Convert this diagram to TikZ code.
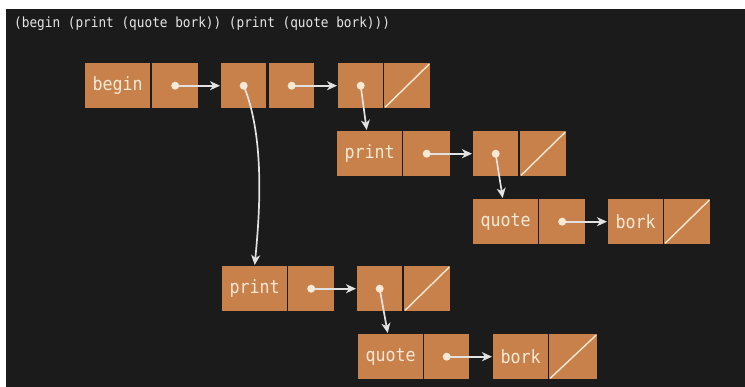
\documentclass[tikz,border=0pt]{standalone}
\usepackage{fontspec}
\newfontfamily\codefont[FakeStretch=0.91]{DejaVu Sans Mono}
\usetikzlibrary{arrows.meta}
\definecolor{bg}{HTML}{1B1B1B}
\definecolor{cellfill}{HTML}{C8814B}
\definecolor{celltext}{HTML}{F6E9D6}
\definecolor{wire}{HTML}{E2E2E2}
\definecolor{headline}{HTML}{E6E6E6}
\tikzset{
  cell/.style={rectangle, anchor=north west, fill=cellfill, draw=bg, line width=1.4pt,
    inner sep=0pt, minimum height=46pt, text=celltext,
    font=\codefont\fontsize{18.3}{20}\selectfont},
  ptr/.style={wire, line width=1.7pt, -{Stealth[length=10pt,width=9pt,inset=3pt]}},
  dot/.style={fill=celltext},
  nil/.style={celltext, line width=1.4pt, shorten <=3pt, shorten >=3pt}
}
\begin{document}
\begin{tikzpicture}[x=1pt,y=-1pt]
  \useasboundingbox (0,0) rectangle (745,387);
  \fill[white] (0,0) rectangle (745,387);
  \fill[bg] (6,9) rectangle (745,387);

  \node[anchor=base west, text=headline, inner sep=0pt,
        font=\codefont\fontsize{14}{15}\selectfont] (src) at (14,28)
        {(begin (print (quote bork)) (print (quote bork)))};

  % top-level list
  \node[cell, minimum width=66pt] (b1)  at (84,62)  {begin};
  \node[cell, minimum width=47pt] (b1n) at (151,62) {};
  \node[cell, minimum width=46pt] (p1a) at (220,62) {};
  \node[cell, minimum width=46pt] (p1d) at (268,62) {};
  \node[cell, minimum width=46pt] (p2a) at (337,62) {};
  \node[cell, minimum width=47pt] (p2d) at (383,62) {};

  % second print form
  \node[cell, minimum width=66pt] (pr1)  at (336,130) {print};
  \node[cell, minimum width=48pt] (pr1n) at (402,130) {};
  \node[cell, minimum width=46pt] (c1a)  at (472,130) {};
  \node[cell, minimum width=47pt] (c1d)  at (519,130) {};

  \node[cell, minimum width=66pt] (q1)   at (472,198) {quote};
  \node[cell, minimum width=47pt] (q1n)  at (538,198) {};
  \node[cell, minimum width=56pt] (bk1)  at (607,198) {bork};
  \node[cell, minimum width=47pt] (bk1d) at (663,198) {};

  % first print form
  \node[cell, minimum width=66pt] (pr2)  at (221,265) {print};
  \node[cell, minimum width=47pt] (pr2n) at (287,265) {};
  \node[cell, minimum width=46pt] (c2a)  at (356,265) {};
  \node[cell, minimum width=47pt] (c2d)  at (403,265) {};

  \node[cell, minimum width=66pt] (q2)   at (357,333) {quote};
  \node[cell, minimum width=46pt] (q2n)  at (423,333) {};
  \node[cell, minimum width=56pt] (bk2)  at (492,333) {bork};
  \node[cell, minimum width=49pt] (bk2d) at (548,333) {};

  % empty-list slashes
  \foreach \n in {p2d, c1d, bk1d, c2d, bk2d}
    \draw[nil] (\n.south west) -- (\n.north east);

  % pointers
  \draw[ptr] (b1n.center) -- (p1a.west);
  \draw[ptr] (p1d.center) -- (p2a.west);
  \draw[ptr] (p2a.center) -- ([xshift=-3pt]pr1.north);
  \draw[ptr] (p1a.center) .. controls (266,140) and (259,220) .. (pr2.north);
  \draw[ptr] (pr1n.center) -- (c1a.west);
  \draw[ptr] (c1a.center) -- ([xshift=-3pt]q1.north);
  \draw[ptr] (q1n.center) -- (bk1.west);
  \draw[ptr] (pr2n.center) -- (c2a.west);
  \draw[ptr] (c2a.center) -- ([xshift=-3pt]q2.north);
  \draw[ptr] (q2n.center) -- (bk2.west);

  % pointer origins
  \foreach \n in {b1n, p1a, p1d, p2a, pr1n, c1a, q1n, pr2n, c2a, q2n}
    \fill[dot] (\n.center) circle (4pt);
\end{tikzpicture}
\end{document}
